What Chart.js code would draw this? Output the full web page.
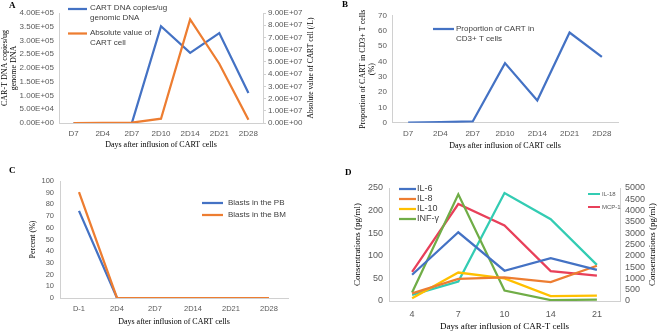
<!DOCTYPE html>
<html>
<head>
<meta charset="utf-8">
<script src="https://cdn.jsdelivr.net/npm/chart.js@4.4.1/dist/chart.umd.min.js"></script>
<style>
  html, body { margin: 0; padding: 0; background: #fff; }
  #page { position: relative; width: 661px; height: 334px; overflow: hidden; background: #fff; }
  canvas { position: absolute; }
</style>
</head>
<body>
<div id="page">
  <canvas id="chartA" width="330" height="160" style="left:0;top:0"></canvas>
  <canvas id="chartB" width="331" height="160" style="left:330px;top:0"></canvas>
  <canvas id="chartC" width="330" height="174" style="left:0;top:160px"></canvas>
  <canvas id="chartD" width="331" height="174" style="left:330px;top:160px"></canvas>
</div>
<script>
/** Data */
// A - CART expansion
const daysA = ['D7', '2D4', '2D7', '2D10', '2D14', '2D21', '2D28'];
const cartDnaCopies = [0, 0, 0, 352000, 255000, 327000, 109000];
const cartAbsolute = [0, 200000, 300000, 3500000, 84800000, 48500000, 2700000];

// B - proportion of CART in CD3+ T cells
const daysB = ['D7', '2D4', '2D7', '2D10', '2D14', '2D21', '2D28'];
const cartProportion = [0, 0.3, 0.8, 39, 14.5, 59, 43];

// C - blasts
const daysC = ['D-1', '2D4', '2D7', '2D14', '2D21', '2D28'];
const blastsPB = [74.5, 0, 0, 0, 0, 0];
const blastsBM = [90.5, 0, 0, 0, 0, 0];

// D - cytokines
const daysD = ['4', '7', '10', '14', '21'];
const il6 = [58, 152, 67, 95, 69];
const il8 = [17, 49, 52, 42, 78];
const il10 = [6, 63, 50, 11, 12];
const infG = [19, 236, 23, 2, 3];
const il18 = [270, 860, 4780, 3620, 1600];
const mcp1 = [1290, 4290, 3340, 1320, 1120];

/** Styles */
const TICK = '#595959';
const AXIS = '#d0d0d0';
const SANS = "'Liberation Sans', Arial, sans-serif";
const SERIF = "'Liberation Serif', 'Times New Roman', serif";
const BLUE = '#4472C4', ORANGE = '#ED7D31', YELLOW = '#FFC000', GREEN = '#70AD47';
const TEAL = '#33CCB3', RED = '#E8405A';

// 4.00E+05 style labels
function sci(v) {
    const parts = Number(v).toExponential(2).split('e');
    const n = parseInt(parts[1], 10);
    return parts[0] + 'E' + (n < 0 ? '-' : '+') + String(Math.abs(n)).padStart(2, '0');
}
function plain(v) {
    return String(v);
}

function axis(o) {
    const a = {
        position: o.position,
        offset: !!o.offset,
        grid: {
            display: !!o.tickLength,
            drawOnChartArea: false,
            drawTicks: !!o.tickLength,
            tickLength: o.tickLength || 0,
            color: AXIS
        },
        border: { color: AXIS, width: 1 },
        ticks: {
            color: TICK,
            font: { family: SANS, size: o.fontSize },
            padding: o.pad,
            autoSkip: false,
            maxRotation: 0
        },
        title: {
            display: !!o.title,
            text: o.title || '',
            color: '#000',
            font: { family: SERIF, size: o.titleSize, lineHeight: 1.15 },
            padding: { top: o.tpt || 0, bottom: o.tpb || 0 }
        },
        afterFit: function (s) {
            if (s.isHorizontal()) s.height = o.size; else s.width = o.size;
        }
    };
    if (o.min !== undefined) { a.min = o.min; a.max = o.max; a.ticks.stepSize = o.step; }
    if (o.cb) a.ticks.callback = o.cb;
    return a;
}

function line(label, data, color, extra) {
    return Object.assign({
        label: label, data: data, borderColor: color, backgroundColor: color,
        borderWidth: 2.25, pointRadius: 0, tension: 0, fill: false
    }, extra || {});
}

// legend drawn by hand so labels can wrap like the original
const lineLegend = {
    id: 'lineLegend',
    afterDraw: function (chart, args, opts) {
        const ctx = chart.ctx;
        ctx.save();
        ctx.textBaseline = 'middle';
        ctx.textAlign = 'left';
        (opts.items || []).forEach(function (item) {
            const ds = chart.data.datasets[item.dataset];
            ctx.strokeStyle = ds.borderColor;
            ctx.lineWidth = ds.borderWidth;
            ctx.beginPath();
            ctx.moveTo(item.x, item.y + (opts.markerDy || 0));
            ctx.lineTo(item.x + opts.boxWidth, item.y + (opts.markerDy || 0));
            ctx.stroke();
            ctx.font = opts.font;
            ctx.fillStyle = opts.color;
            ds.label.split('\n').forEach(function (t, k) {
                ctx.fillText(t, item.x + opts.boxWidth + opts.gap, item.y + k * opts.lineHeight);
            });
        });
        if (opts.letter) {
            ctx.font = 'bold 9px ' + SERIF;
            ctx.fillStyle = '#000';
            ctx.fillText(opts.letter, opts.letterX, opts.letterY);
        }
        // right axis title reads bottom to top like the left one
        if (opts.rightTitle) {
            const area = chart.chartArea;
            ctx.translate(opts.rightTitle.x, (area.top + area.bottom) / 2);
            ctx.rotate(-Math.PI / 2);
            ctx.textAlign = 'center';
            ctx.font = opts.rightTitle.size + 'px ' + SERIF;
            ctx.fillStyle = '#000';
            ctx.fillText(opts.rightTitle.text, 0, 0);
        }
        ctx.restore();
    }
};

const base = { responsive: false, animation: false, devicePixelRatio: 1 };

/** Panel A */
new Chart(document.getElementById('chartA'), {
    type: 'line',
    data: {
        labels: daysA,
        datasets: [
            line('CART DNA copies/ug\ngenomic DNA', cartDnaCopies, BLUE, { yAxisID: 'y', order: 1 }),
            line('Absolute value of\nCART cell', cartAbsolute, ORANGE, { yAxisID: 'y1', order: 0 })
        ]
    },
    options: Object.assign({}, base, {
        layout: { padding: { top: 13, left: 0, right: 0, bottom: 0 } },
        scales: {
            x: axis({ position: 'bottom', offset: true, fontSize: 8, pad: 6, title: 'Days after influsion of CART cells', titleSize: 8, tpb: 10, size: 37 }),
            y: axis({ position: 'left', min: 0, max: 400000, step: 50000, cb: sci, fontSize: 8, pad: 5, title: ['CAR-T DNA copies/ug', 'genome DNA'], titleSize: 8, tpt: 0.5, size: 59 }),
            y1: axis({ position: 'right', min: 0, max: 90000000, step: 10000000, cb: sci, fontSize: 8, pad: 2, tickLength: 3, size: 67 })
        },
        plugins: {
            legend: { display: false },
            tooltip: { enabled: false },
            lineLegend: {
                font: '8px ' + SANS, color: '#404040', boxWidth: 19, gap: 3, lineHeight: 10, markerDy: 1,
                items: [{ dataset: 0, x: 68, y: 8 }, { dataset: 1, x: 68, y: 32.5 }],
                letter: 'A', letterX: 9, letterY: 6,
                rightTitle: { text: 'Absolute value of CART cell (/L)', x: 311, size: 7.5 }
            }
        }
    }),
    plugins: [lineLegend]
});

/** Panel B */
new Chart(document.getElementById('chartB'), {
    type: 'line',
    data: {
        labels: daysB,
        datasets: [line('Proportion of CART in\nCD3+ T cells', cartProportion, BLUE)]
    },
    options: Object.assign({}, base, {
        layout: { padding: { top: 15.7, left: 0, right: 43, bottom: 0 } },
        scales: {
            x: axis({ position: 'bottom', offset: true, fontSize: 8, pad: 6, title: 'Days after influsion of CART cells', titleSize: 8, tpb: 9.5, size: 37.3 }),
            y: axis({ position: 'left', min: 0, max: 70, step: 10, fontSize: 8, pad: 5, title: ['Proportion of CART in CD3+ T cells', '(%)'], titleSize: 8, tpt: 28.4, size: 62 })
        },
        plugins: {
            legend: { display: false },
            tooltip: { enabled: false },
            lineLegend: {
                font: '8px ' + SANS, color: '#404040', boxWidth: 21, gap: 2, lineHeight: 9.3, markerDy: 0,
                items: [{ dataset: 0, x: 103, y: 29 }],
                letter: 'B', letterX: 12, letterY: 5
            }
        }
    }),
    plugins: [lineLegend]
});

/** Panel C */
new Chart(document.getElementById('chartC'), {
    type: 'line',
    data: {
        labels: daysC,
        datasets: [
            line('Blasts in the PB', blastsPB, BLUE, { order: 1 }),
            line('Blasts in the BM', blastsBM, ORANGE, { order: 0 })
        ]
    },
    options: Object.assign({}, base, {
        layout: { padding: { top: 21, left: 0, right: 42, bottom: 0 } },
        scales: {
            x: axis({ position: 'bottom', offset: true, fontSize: 7.5, pad: 6, title: 'Days after influsion of CART cells', titleSize: 8, tpb: 7.4, size: 36 }),
            y: axis({ position: 'left', min: 0, max: 100, step: 10, fontSize: 7.5, pad: 6, title: 'Percent (%)', titleSize: 8, tpt: 28.4, size: 60 })
        },
        plugins: {
            legend: { display: false },
            tooltip: { enabled: false },
            lineLegend: {
                font: '8px ' + SANS, color: '#404040', boxWidth: 21, gap: 5, lineHeight: 10, markerDy: 0,
                items: [{ dataset: 0, x: 202, y: 43 }, { dataset: 1, x: 202, y: 55 }],
                letter: 'C', letterX: 9, letterY: 11
            }
        }
    }),
    plugins: [lineLegend]
});

/** Panel D */
const legendD = {
    id: 'legendD',
    afterDraw: function (chart) {
        const ctx = chart.ctx;
        ctx.save();
        ctx.textBaseline = 'middle';
        ctx.font = '6px ' + SANS;
        ctx.fillStyle = TICK;
        [[4, 34], [5, 47]].forEach(function (p) {
            const ds = chart.data.datasets[p[0]];
            ctx.strokeStyle = ds.borderColor;
            ctx.lineWidth = 2;
            ctx.beginPath();
            ctx.moveTo(258, p[1]);
            ctx.lineTo(270, p[1]);
            ctx.stroke();
            ctx.fillText(ds.label, 272, p[1]);
        });
        ctx.restore();
    }
};

new Chart(document.getElementById('chartD'), {
    type: 'line',
    data: {
        labels: daysD,
        datasets: [
            line('IL-6', il6, BLUE, { yAxisID: 'y' }),
            line('IL-8', il8, ORANGE, { yAxisID: 'y' }),
            line('IL-10', il10, YELLOW, { yAxisID: 'y' }),
            line('INF-\u03b3', infG, GREEN, { yAxisID: 'y' }),
            line('IL-18', il18, TEAL, { yAxisID: 'y1' }),
            line('MCP-1', mcp1, RED, { yAxisID: 'y1' })
        ]
    },
    options: Object.assign({}, base, {
        layout: { padding: { top: 28, left: 0, right: 0, bottom: 0 } },
        scales: {
            x: axis({ position: 'bottom', offset: true, fontSize: 9, pad: 8, title: 'Days after influsion of CAR-T cells', titleSize: 9, tpb: 1.8, size: 33 }),
            y: axis({ position: 'left', min: 0, max: 250, step: 50, cb: plain, fontSize: 9, pad: 6, title: 'Consentrations (pg/ml)', titleSize: 9, tpt: 22.8, size: 59 }),
            y1: axis({ position: 'right', min: 0, max: 5000, step: 500, cb: plain, fontSize: 9, pad: 5, size: 41 })
        },
        plugins: {
            legend: { display: false },
            tooltip: { enabled: false },
            lineLegend: {
                font: '9px ' + SANS, color: '#404040', boxWidth: 17, gap: 1, lineHeight: 10, markerDy: 0,
                items: [
                    { dataset: 0, x: 69, y: 29 },
                    { dataset: 1, x: 69, y: 39 },
                    { dataset: 2, x: 69, y: 49 },
                    { dataset: 3, x: 69, y: 59 }
                ],
                letter: 'D', letterX: 15, letterY: 13,
                rightTitle: { text: 'Consentrations (pg/ml)', x: 323, size: 9 }
            }
        }
    }),
    plugins: [lineLegend, legendD]
});
</script>
</body>
</html>
